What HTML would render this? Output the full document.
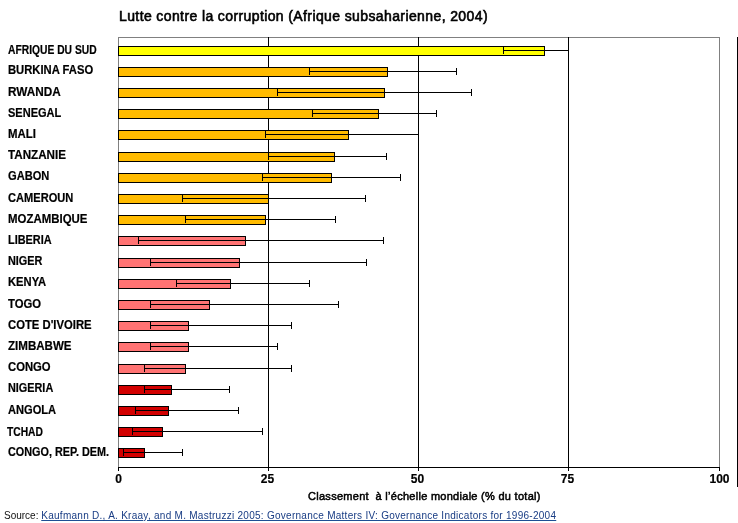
<!DOCTYPE html>
<html><head><meta charset="utf-8">
<style>
html,body{margin:0;padding:0;background:#fff;width:738px;height:523px;overflow:hidden;position:relative;}
body{font-family:"Liberation Sans",sans-serif;color:#000;}
.wrap{position:absolute;left:0;top:0;width:738px;height:523px;will-change:transform;}
svg{position:absolute;left:0;top:0;}
.title{position:absolute;left:119px;top:8px;-webkit-text-stroke:0.6px #000;font-size:14px;line-height:16px;white-space:nowrap;letter-spacing:0.39px;}
.lab{position:absolute;left:7px;font-size:12px;font-weight:bold;line-height:14px;white-space:nowrap;transform-origin:0 0;-webkit-text-stroke:0.2px #000;}
.tick{position:absolute;top:472px;-webkit-text-stroke:0.2px #000;width:61px;text-align:center;font-size:12px;font-weight:bold;line-height:14px;}
.xt{position:absolute;left:308px;top:489px;-webkit-text-stroke:0.5px #000;font-size:11px;line-height:14px;white-space:nowrap;letter-spacing:0.28px;}
.src{position:absolute;left:4px;top:510px;color:#111;font-size:10px;line-height:12px;white-space:nowrap;}
.src a{color:#183C84;text-decoration:underline;text-decoration-color:#1E4F94;letter-spacing:0.27px;}
</style></head><body>
<div class="wrap">
<svg width="738" height="523" shape-rendering="crispEdges">
<rect x="118" y="37" width="602" height="1" fill="#808080"/>
<rect x="118" y="37" width="1" height="430" fill="#808080"/>
<rect x="719" y="37" width="1" height="430" fill="#808080"/>
<rect x="268" y="37" width="1" height="430" fill="#000"/>
<rect x="418" y="37" width="1" height="430" fill="#000"/>
<rect x="568" y="37" width="1" height="430" fill="#000"/>
<rect x="118" y="467" width="602" height="1" fill="#000"/>
<rect x="118" y="467" width="1" height="4" fill="#000"/>
<rect x="268" y="467" width="1" height="4" fill="#000"/>
<rect x="418" y="467" width="1" height="4" fill="#000"/>
<rect x="568" y="467" width="1" height="4" fill="#000"/>
<rect x="719" y="467" width="1" height="4" fill="#000"/>
<rect x="737" y="37" width="1" height="450" fill="#000"/>
<rect x="118" y="46" width="427" height="10" fill="#000"/>
<rect x="119" y="47" width="425" height="8" fill="#FFFF00"/>
<rect x="503" y="50" width="66" height="1" fill="#000"/>
<rect x="503" y="47" width="1" height="7" fill="#000"/>
<rect x="568" y="47" width="1" height="7" fill="#000"/>
<rect x="118" y="67" width="270" height="10" fill="#000"/>
<rect x="119" y="68" width="268" height="8" fill="#FFBB00"/>
<rect x="309" y="71" width="148" height="1" fill="#000"/>
<rect x="309" y="68" width="1" height="7" fill="#000"/>
<rect x="456" y="68" width="1" height="7" fill="#000"/>
<rect x="118" y="88" width="267" height="10" fill="#000"/>
<rect x="119" y="89" width="265" height="8" fill="#FFBB00"/>
<rect x="277" y="92" width="195" height="1" fill="#000"/>
<rect x="277" y="89" width="1" height="7" fill="#000"/>
<rect x="471" y="89" width="1" height="7" fill="#000"/>
<rect x="118" y="109" width="261" height="10" fill="#000"/>
<rect x="119" y="110" width="259" height="8" fill="#FFBB00"/>
<rect x="312" y="113" width="125" height="1" fill="#000"/>
<rect x="312" y="110" width="1" height="7" fill="#000"/>
<rect x="436" y="110" width="1" height="7" fill="#000"/>
<rect x="118" y="130" width="231" height="10" fill="#000"/>
<rect x="119" y="131" width="229" height="8" fill="#FFBB00"/>
<rect x="265" y="134" width="154" height="1" fill="#000"/>
<rect x="265" y="131" width="1" height="7" fill="#000"/>
<rect x="418" y="131" width="1" height="7" fill="#000"/>
<rect x="118" y="152" width="217" height="10" fill="#000"/>
<rect x="119" y="153" width="215" height="8" fill="#FFBB00"/>
<rect x="268" y="156" width="119" height="1" fill="#000"/>
<rect x="268" y="153" width="1" height="7" fill="#000"/>
<rect x="386" y="153" width="1" height="7" fill="#000"/>
<rect x="118" y="173" width="214" height="10" fill="#000"/>
<rect x="119" y="174" width="212" height="8" fill="#FFBB00"/>
<rect x="262" y="177" width="139" height="1" fill="#000"/>
<rect x="262" y="174" width="1" height="7" fill="#000"/>
<rect x="400" y="174" width="1" height="7" fill="#000"/>
<rect x="118" y="194" width="151" height="10" fill="#000"/>
<rect x="119" y="195" width="149" height="8" fill="#FFBB00"/>
<rect x="182" y="198" width="184" height="1" fill="#000"/>
<rect x="182" y="195" width="1" height="7" fill="#000"/>
<rect x="365" y="195" width="1" height="7" fill="#000"/>
<rect x="118" y="215" width="148" height="10" fill="#000"/>
<rect x="119" y="216" width="146" height="8" fill="#FFBB00"/>
<rect x="185" y="219" width="151" height="1" fill="#000"/>
<rect x="185" y="216" width="1" height="7" fill="#000"/>
<rect x="335" y="216" width="1" height="7" fill="#000"/>
<rect x="118" y="236" width="128" height="10" fill="#000"/>
<rect x="119" y="237" width="126" height="8" fill="#FF7373"/>
<rect x="138" y="240" width="246" height="1" fill="#000"/>
<rect x="138" y="237" width="1" height="7" fill="#000"/>
<rect x="383" y="237" width="1" height="7" fill="#000"/>
<rect x="118" y="258" width="122" height="10" fill="#000"/>
<rect x="119" y="259" width="120" height="8" fill="#FF7373"/>
<rect x="150" y="262" width="217" height="1" fill="#000"/>
<rect x="150" y="259" width="1" height="7" fill="#000"/>
<rect x="366" y="259" width="1" height="7" fill="#000"/>
<rect x="118" y="279" width="113" height="10" fill="#000"/>
<rect x="119" y="280" width="111" height="8" fill="#FF7373"/>
<rect x="176" y="283" width="134" height="1" fill="#000"/>
<rect x="176" y="280" width="1" height="7" fill="#000"/>
<rect x="309" y="280" width="1" height="7" fill="#000"/>
<rect x="118" y="300" width="92" height="10" fill="#000"/>
<rect x="119" y="301" width="90" height="8" fill="#FF7373"/>
<rect x="150" y="304" width="189" height="1" fill="#000"/>
<rect x="150" y="301" width="1" height="7" fill="#000"/>
<rect x="338" y="301" width="1" height="7" fill="#000"/>
<rect x="118" y="321" width="71" height="10" fill="#000"/>
<rect x="119" y="322" width="69" height="8" fill="#FF7373"/>
<rect x="150" y="325" width="142" height="1" fill="#000"/>
<rect x="150" y="322" width="1" height="7" fill="#000"/>
<rect x="291" y="322" width="1" height="7" fill="#000"/>
<rect x="118" y="342" width="71" height="10" fill="#000"/>
<rect x="119" y="343" width="69" height="8" fill="#FF7373"/>
<rect x="150" y="346" width="128" height="1" fill="#000"/>
<rect x="150" y="343" width="1" height="7" fill="#000"/>
<rect x="277" y="343" width="1" height="7" fill="#000"/>
<rect x="118" y="364" width="68" height="10" fill="#000"/>
<rect x="119" y="365" width="66" height="8" fill="#FF7373"/>
<rect x="144" y="368" width="148" height="1" fill="#000"/>
<rect x="144" y="365" width="1" height="7" fill="#000"/>
<rect x="291" y="365" width="1" height="7" fill="#000"/>
<rect x="118" y="385" width="54" height="10" fill="#000"/>
<rect x="119" y="386" width="52" height="8" fill="#D20000"/>
<rect x="144" y="389" width="86" height="1" fill="#000"/>
<rect x="144" y="386" width="1" height="7" fill="#000"/>
<rect x="229" y="386" width="1" height="7" fill="#000"/>
<rect x="118" y="406" width="51" height="10" fill="#000"/>
<rect x="119" y="407" width="49" height="8" fill="#D20000"/>
<rect x="135" y="410" width="104" height="1" fill="#000"/>
<rect x="135" y="407" width="1" height="7" fill="#000"/>
<rect x="238" y="407" width="1" height="7" fill="#000"/>
<rect x="118" y="427" width="45" height="10" fill="#000"/>
<rect x="119" y="428" width="43" height="8" fill="#D20000"/>
<rect x="132" y="431" width="131" height="1" fill="#000"/>
<rect x="132" y="428" width="1" height="7" fill="#000"/>
<rect x="262" y="428" width="1" height="7" fill="#000"/>
<rect x="118" y="448" width="27" height="10" fill="#000"/>
<rect x="119" y="449" width="25" height="8" fill="#D20000"/>
<rect x="123" y="452" width="60" height="1" fill="#000"/>
<rect x="123" y="449" width="1" height="7" fill="#000"/>
<rect x="182" y="449" width="1" height="7" fill="#000"/>
</svg>
<div class="title">Lutte contre la corruption (Afrique subsaharienne, 2004)</div>
<div class="lab" style="left:7.5px;top:43px;transform:scaleX(0.8578)">AFRIQUE DU SUD</div>
<div class="lab" style="left:8px;top:63px;transform:scaleX(0.9371)">BURKINA FASO</div>
<div class="lab" style="left:8px;top:85px;transform:scaleX(0.9804)">RWANDA</div>
<div class="lab" style="left:8px;top:106px;transform:scaleX(0.9193)">SENEGAL</div>
<div class="lab" style="left:8px;top:127px;transform:scaleX(0.9519)">MALI</div>
<div class="lab" style="left:8px;top:148px;transform:scaleX(0.9695)">TANZANIE</div>
<div class="lab" style="left:8px;top:169px;transform:scaleX(0.9256)">GABON</div>
<div class="lab" style="left:8px;top:191px;transform:scaleX(0.9246)">CAMEROUN</div>
<div class="lab" style="left:8px;top:212px;transform:scaleX(0.9531)">MOZAMBIQUE</div>
<div class="lab" style="left:8px;top:233px;transform:scaleX(0.9087)">LIBERIA</div>
<div class="lab" style="left:8px;top:254px;transform:scaleX(0.9056)">NIGER</div>
<div class="lab" style="left:8px;top:275px;transform:scaleX(0.9333)">KENYA</div>
<div class="lab" style="left:8px;top:297px;transform:scaleX(0.9412)">TOGO</div>
<div class="lab" style="left:8px;top:318px;transform:scaleX(0.9409)">COTE D'IVOIRE</div>
<div class="lab" style="left:8px;top:339px;transform:scaleX(0.9631)">ZIMBABWE</div>
<div class="lab" style="left:8px;top:360px;transform:scaleX(0.9409)">CONGO</div>
<div class="lab" style="left:8px;top:381px;transform:scaleX(0.9042)">NIGERIA</div>
<div class="lab" style="left:8px;top:403px;transform:scaleX(0.9255)">ANGOLA</div>
<div class="lab" style="left:7.3px;top:425px;transform:scaleX(0.8561)">TCHAD</div>
<div class="lab" style="left:8px;top:445px;transform:scaleX(0.9036)">CONGO, REP. DEM.</div>
<div class="tick" style="left:88px">0</div>
<div class="tick" style="left:237px">25</div>
<div class="tick" style="left:387px">50</div>
<div class="tick" style="left:537px">75</div>
<div class="tick" style="left:689px">100</div>
<div class="xt">Classement&nbsp; à l’échelle mondiale (% du total)</div>
<div class="src">Source: <a>Kaufmann D., A. Kraay, and M. Mastruzzi 2005: Governance Matters IV: Governance Indicators for 1996-2004</a></div>
</div>
</body></html>
